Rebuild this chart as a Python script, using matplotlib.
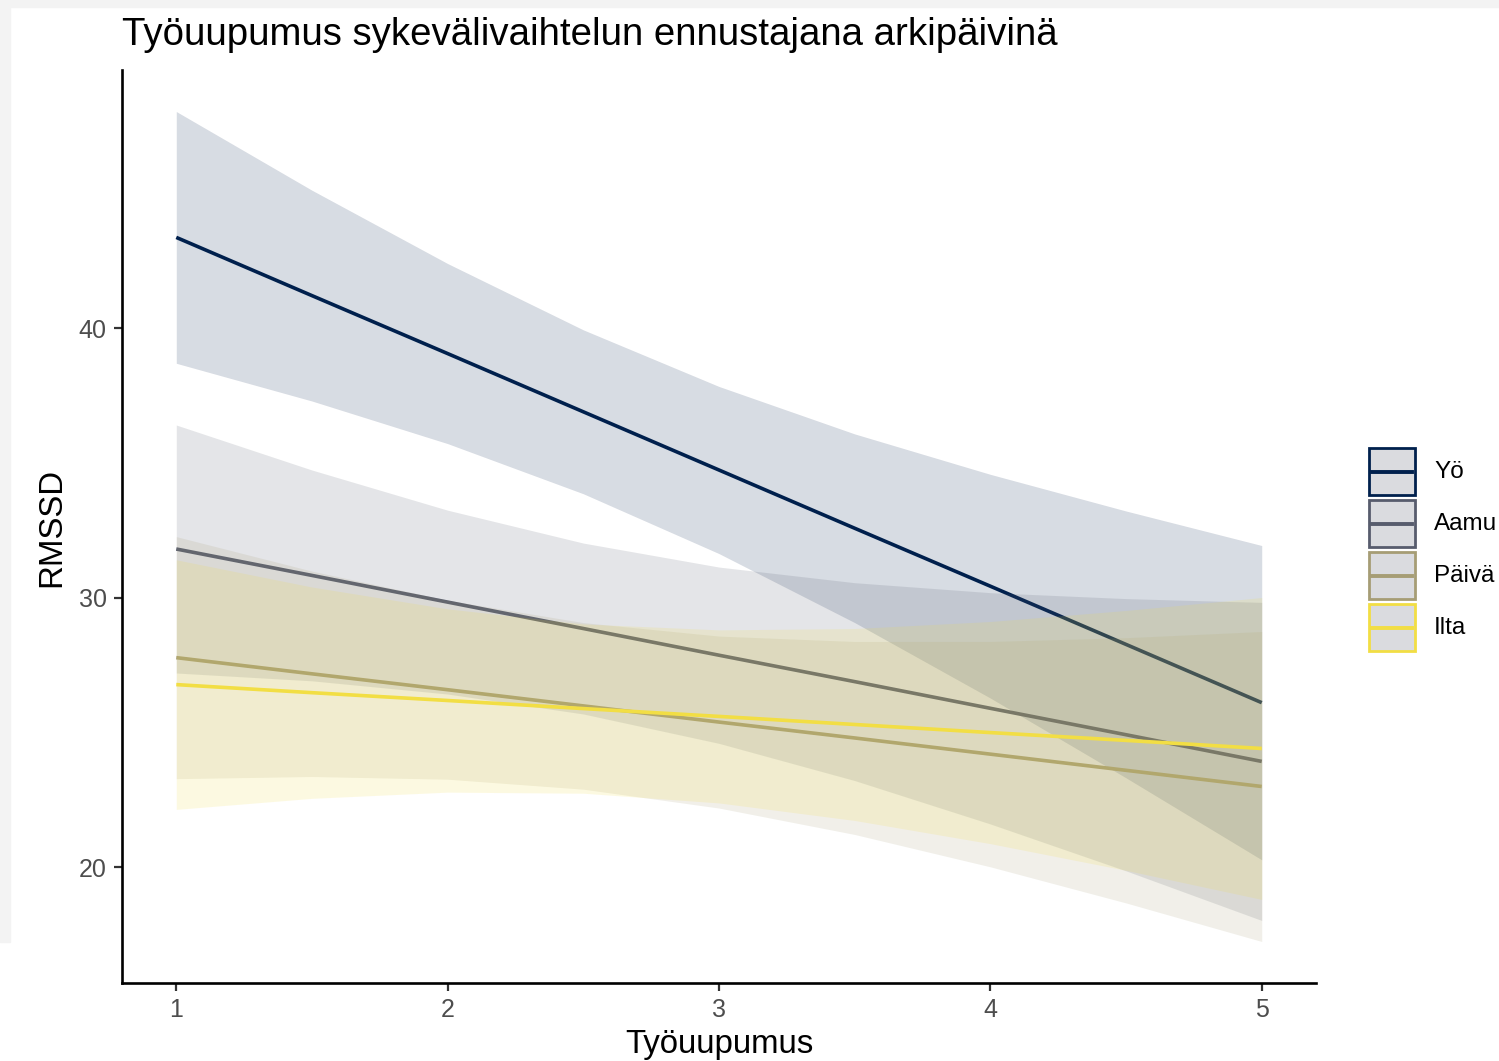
import matplotlib
matplotlib.use("Agg")
import matplotlib.pyplot as plt
from matplotlib.patches import Rectangle
from matplotlib.lines import Line2D

plt.rcParams['font.family'] = ['Liberation Sans', 'DejaVu Sans']

# fitted values and 95% bands at x = 1, 1.5, ..., 5
tyouupumus = [1, 1.5, 2, 2.5, 3, 3.5, 4, 4.5, 5]

yo_fit = [43.37, 41.21, 39.06, 36.90, 34.74, 32.58, 30.43, 28.27, 26.11]
yo_hi = [48.04, 45.12, 42.40, 39.94, 37.84, 36.08, 34.58, 33.22, 31.94]
yo_lo = [38.70, 37.30, 35.72, 33.86, 31.64, 29.08, 26.28, 23.32, 20.28]

aamu_fit = [31.81, 30.83, 29.84, 28.86, 27.87, 26.89, 25.90, 24.92, 23.93]
aamu_hi = [36.41, 34.74, 33.25, 32.03, 31.14, 30.56, 30.19, 29.97, 29.83]
aamu_lo = [27.21, 26.92, 26.43, 25.69, 24.60, 23.22, 21.61, 19.87, 18.03]

paiva_fit = [27.78, 27.18, 26.59, 25.99, 25.39, 24.80, 24.20, 23.60, 23.00]
paiva_hi = [32.27, 30.99, 29.91, 29.08, 28.58, 28.38, 28.38, 28.52, 28.75]
paiva_lo = [23.29, 23.37, 23.27, 22.90, 22.20, 21.22, 20.02, 18.68, 17.25]

ilta_fit = [26.78, 26.48, 26.19, 25.89, 25.60, 25.30, 25.00, 24.71, 24.41]
ilta_hi = [31.41, 30.40, 29.59, 29.03, 28.81, 28.86, 29.12, 29.53, 30.01]
ilta_lo = [22.15, 22.56, 22.79, 22.75, 22.39, 21.74, 20.88, 19.89, 18.81]

labels = ['Yö', 'Aamu', 'Päivä', 'Ilta']
colors = ['#00204D', '#575C6D', '#A69D75', '#F2DE44']
fits = [yo_fit, aamu_fit, paiva_fit, ilta_fit]
his = [yo_hi, aamu_hi, paiva_hi, ilta_hi]
los = [yo_lo, aamu_lo, paiva_lo, ilta_lo]

W, H = 1499, 1061
def fx(x): return x / W
def fy(y): return 1 - y / H

fig = plt.figure(figsize=(W / 100, H / 100), dpi=100)
# light grey screenshot border
fig.patches.append(Rectangle((0, fy(7)), 1, 7 / H, transform=fig.transFigure, color='#f3f3f3', zorder=-10))
fig.patches.append(Rectangle((0, fy(942)), 10 / W, 935 / H, transform=fig.transFigure, color='#f3f3f3', zorder=-10))

ax = fig.add_axes([fx(122), fy(983), (1316 - 122) / W, (983 - 70) / H])

z = 1
for fit, hi, lo, c in zip(fits, his, los, colors):
    ax.fill_between(tyouupumus, lo, hi, color=c, alpha=0.155, linewidth=0, zorder=z)
    ax.plot(tyouupumus, fit, color=c, lw=2.6, zorder=z + 1, solid_capstyle='butt')
    z += 2

ax.set_xlim(0.8, 5.2)
ax.set_ylim(15.71, 49.58)
ax.set_xticks([1, 2, 3, 4, 5])
ax.set_yticks([20, 30, 40])
for s in ['top', 'right']:
    ax.spines[s].set_visible(False)
for s in ['left', 'bottom']:
    ax.spines[s].set_linewidth(1.9)
    ax.spines[s].set_color('black')
ax.tick_params(length=6, width=1.6, color='#333333', labelsize=18, labelcolor='#4d4d4d', pad=5)

fig.text(fx(122), fy(45), 'Työuupumus sykevälivaihtelun ennustajana arkipäivinä', fontsize=27.6, va='baseline', ha='left')
fig.text(fx(719), fy(1044), 'Työuupumus', fontsize=23.8, ha='center', va='center')
fig.text(fx(52), fy(527), 'RMSSD', fontsize=23.8, ha='center', va='center', rotation=90)

# legend
for i, (lab, c) in enumerate(zip(labels, colors)):
    top = 448 + i * 52
    fig.patches.append(Rectangle((fx(1369), fy(top + 47)), 46 / W, 47 / H, transform=fig.transFigure,
                                 facecolor='#dadbdf', edgecolor=c, linewidth=2.0))
    fig.lines.append(Line2D([fx(1372), fx(1412)], [fy(top + 23.5)] * 2, transform=fig.transFigure,
                            color=c, lw=2.8))
    fig.text(fx(1434), fy(top + 24), lab, fontsize=17.5, ha='left', va='center')

fig.savefig('out.png', dpi=100, facecolor='white')
